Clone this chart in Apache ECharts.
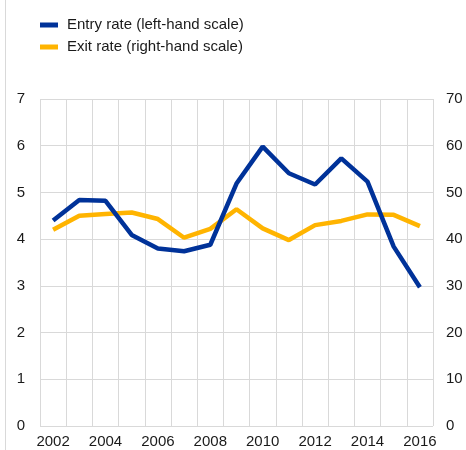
<!DOCTYPE html>
<html>
<head>
<meta charset="utf-8">
<script src="https://cdn.jsdelivr.net/npm/echarts@6/dist/echarts.min.js"></script>
<style>
  html, body { margin: 0; padding: 0; background: #fff; }
  #chart { width: 466px; height: 450px; }
</style>
</head>
<body>
<div id="chart"></div>
<script>
// years on the x axis
const years = ['2002', '2003', '2004', '2005', '2006', '2007', '2008', '2009',
               '2010', '2011', '2012', '2013', '2014', '2015', '2016'];
// entry rate, left-hand scale
const entryRate = [4.40, 4.84, 4.82, 4.09, 3.80, 3.74, 3.88, 5.19,
                   5.98, 5.41, 5.17, 5.73, 5.23, 3.84, 2.97];
// exit rate, right-hand scale
const exitRate = [42.0, 45.0, 45.4, 45.7, 44.3, 40.3, 42.2, 46.4,
                  42.3, 39.8, 43.0, 43.9, 45.3, 45.2, 42.8];

const BLUE = '#003299';
const YELLOW = '#FFB400';
const GRID = '#d9d9d9';
const TEXT = '#1a1a1a';
const FONT = 'Liberation Sans, Arial, sans-serif';

const chart = echarts.init(document.getElementById('chart'), null, { renderer: 'canvas' });

chart.setOption({
    animation: false,
    textStyle: { fontFamily: FONT },
    legend: {
        orient: 'vertical',
        left: 35,
        top: 12,
        itemWidth: 18,
        itemHeight: 5,
        itemGap: 6,
        icon: 'rect',
        textStyle: { fontSize: 15, lineHeight: 16, color: TEXT, fontFamily: FONT, padding: [0, 0, 0, 4] },
        data: ['Entry rate (left-hand scale)', 'Exit rate (right-hand scale)']
    },
    grid: { left: 40, right: 33, top: 99, bottom: 24 },
    xAxis: {
        type: 'category',
        data: years,
        boundaryGap: true,
        axisLine: { show: false },
        axisTick: { show: false },
        axisLabel: { interval: 1, fontSize: 15, color: TEXT, margin: 8 },
        splitLine: { show: true, interval: 0, lineStyle: { color: GRID, width: 1 } }
    },
    yAxis: [
        {
            type: 'value', min: 0, max: 7, interval: 1,
            axisLine: { show: false }, axisTick: { show: false },
            axisLabel: { fontSize: 15, color: TEXT, margin: 15 },
            splitLine: { lineStyle: { color: GRID, width: 1 } }
        },
        {
            type: 'value', min: 0, max: 70, interval: 10,
            axisLine: { show: false }, axisTick: { show: false },
            axisLabel: { fontSize: 15, color: TEXT, margin: 13 },
            splitLine: { show: false }
        }
    ],
    graphic: [{
        type: 'line',
        shape: { x1: 5.5, y1: 0, x2: 5.5, y2: 450 },
        style: { stroke: GRID, lineWidth: 1 }
    }],
    series: [
        {
            name: 'Entry rate (left-hand scale)',
            type: 'line',
            yAxisIndex: 0,
            data: entryRate,
            symbol: 'none',
            itemStyle: { color: BLUE },
            lineStyle: { color: BLUE, width: 4.5 },
            z: 3
        },
        {
            name: 'Exit rate (right-hand scale)',
            type: 'line',
            yAxisIndex: 1,
            data: exitRate,
            symbol: 'none',
            itemStyle: { color: YELLOW },
            lineStyle: { color: YELLOW, width: 4.5 },
            z: 2
        }
    ]
});
</script>
</body>
</html>
